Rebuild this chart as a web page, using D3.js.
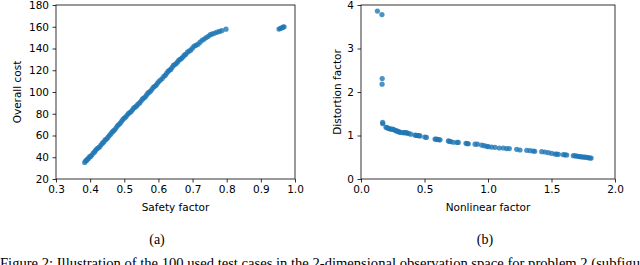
<!DOCTYPE html>
<html>
<head>
<meta charset="utf-8">
<script src="https://cdn.jsdelivr.net/npm/d3@7.9.0/dist/d3.min.js"></script>
<style>
  body { margin: 0; background: #fff; }
  svg { display: block; }
  .tick text { font-family: "DejaVu Sans", sans-serif; font-size: 10.5px; fill: #000; }
  .axis-label { font-family: "DejaVu Sans", sans-serif; font-size: 10.5px; fill: #000; }
  .caption { font-family: "Liberation Serif", "Times New Roman", serif; font-size: 14px; fill: #000; }
  .figcap { font-family: "Liberation Serif", "Times New Roman", serif; font-size: 14.6px; fill: #000; }
</style>
</head>
<body>
<svg id="fig" width="640" height="265"></svg>
<script>
// (a) Safety factor vs overall cost
const safetyX = [
  0.384, 0.387, 0.390, 0.392, 0.395, 0.398, 0.401, 0.405, 0.409, 0.413,
  0.416, 0.420, 0.424, 0.428, 0.432, 0.436, 0.440, 0.444, 0.448, 0.452,
  0.456, 0.460, 0.464, 0.468, 0.472, 0.476, 0.480, 0.484, 0.488, 0.492,
  0.496, 0.500, 0.504, 0.508, 0.512, 0.516, 0.520, 0.524, 0.528, 0.532,
  0.536, 0.540, 0.545, 0.549, 0.553, 0.557, 0.561, 0.565, 0.569, 0.573,
  0.577, 0.581, 0.585, 0.589, 0.593, 0.597, 0.601, 0.606, 0.611, 0.616,
  0.620, 0.624, 0.628, 0.632, 0.636, 0.640, 0.644, 0.648, 0.652, 0.656,
  0.660, 0.664, 0.668, 0.672, 0.676, 0.680, 0.685, 0.690, 0.695, 0.700,
  0.705, 0.710, 0.716, 0.722, 0.728, 0.734, 0.740, 0.746, 0.752, 0.758,
  0.765, 0.772, 0.779, 0.786, 0.798,
  0.953, 0.957, 0.961, 0.965, 0.968
];
const costY = [
  35.2, 36.6, 37.2, 38.3, 38.8, 40.3, 40.8, 42.0, 43.9, 44.9,
  46.4, 47.8, 48.7, 49.6, 51.4, 52.9, 54.1, 55.9, 56.8, 58.2,
  59.9, 61.2, 63.1, 64.2, 65.2, 67.1, 68.9, 70.1, 71.3, 73.0,
  74.8, 76.0, 77.0, 78.6, 80.2, 81.1, 82.0, 83.7, 85.4, 86.2,
  87.2, 88.8, 90.0, 91.7, 93.4, 94.4, 95.4, 97.1, 98.9, 99.8,
  100.9, 102.5, 104.3, 105.3, 106.2, 108.0, 109.6, 111.0, 112.4, 114.4,
  115.4, 117.2, 118.9, 119.9, 120.8, 122.6, 124.4, 125.3, 126.2, 127.7,
  129.3, 130.1, 131.0, 132.4, 133.9, 134.7, 136.6, 137.6, 138.7, 140.5,
  142.3, 142.9, 144.0, 145.8, 147.6, 148.7, 150.1, 151.2, 152.7, 153.4,
  154.2, 155.0, 155.7, 156.5, 157.8,
  157.9, 158.4, 159.0, 159.6, 160.0
];

// (b) Nonlinear factor vs distortion factor
const nonlinX = [
  0.129, 0.165, 0.167, 0.166, 0.170, 0.172,
  0.197, 0.205, 0.215, 0.224, 0.234, 0.244, 0.254, 0.265, 0.276, 0.285,
  0.294, 0.303, 0.312, 0.333, 0.344, 0.354, 0.363, 0.373, 0.391, 0.425,
  0.434, 0.443, 0.455, 0.465, 0.503, 0.515, 0.583, 0.592, 0.601, 0.612,
  0.622, 0.688, 0.697, 0.706, 0.727, 0.757, 0.766, 0.827, 0.836, 0.845,
  0.898, 0.916, 0.950, 0.969, 0.990, 1.003, 1.029, 1.055, 1.089, 1.121,
  1.147, 1.168, 1.226, 1.252, 1.305, 1.331, 1.357, 1.368, 1.423, 1.449,
  1.475, 1.501, 1.528, 1.541, 1.554, 1.593, 1.607, 1.620, 1.672, 1.685,
  1.698, 1.711, 1.724, 1.737, 1.750, 1.763, 1.777, 1.790, 1.803, 1.812
];
const distortY = [
  3.86, 3.78, 2.31, 2.18, 1.30, 1.27,
  1.19, 1.18, 1.165, 1.155, 1.15, 1.145, 1.14, 1.125, 1.11, 1.10,
  1.09, 1.08, 1.07, 1.065, 1.065, 1.065, 1.055, 1.05, 1.03, 1.01,
  1.005, 1.00, 0.995, 0.99, 0.965, 0.955, 0.92, 0.915, 0.91, 0.905,
  0.90, 0.875, 0.865, 0.86, 0.845, 0.84, 0.84, 0.82, 0.815, 0.81,
  0.80, 0.80, 0.78, 0.765, 0.752, 0.743, 0.735, 0.728, 0.713, 0.713,
  0.70, 0.70, 0.682, 0.667, 0.659, 0.651, 0.644, 0.638, 0.628, 0.621,
  0.605, 0.59, 0.575, 0.57, 0.567, 0.559, 0.556, 0.552, 0.536, 0.533,
  0.529, 0.52, 0.513, 0.51, 0.506, 0.502, 0.498, 0.49, 0.483, 0.48
];

const xTicksA = [0.3, 0.4, 0.5, 0.6, 0.7, 0.8, 0.9, 1.0];
const yTicksA = [20, 40, 60, 80, 100, 120, 140, 160, 180];
const xTicksB = [0.0, 0.5, 1.0, 1.5, 2.0];
const yTicksB = [0, 1, 2, 3, 4];

const svg = d3.select('#fig');
const dotColor = '#1f77b4';

function drawPanel(opts) {
  const x = d3.scaleLinear().domain(opts.xDomain).range([opts.left, opts.right]);
  const y = d3.scaleLinear().domain(opts.yDomain).range([opts.bottom, opts.top]);
  const g = svg.append('g');

  const xAxis = g.append('g')
    .attr('transform', `translate(0,${opts.bottom})`)
    .call(d3.axisBottom(x).tickValues(opts.xTicks).tickFormat(d3.format('.1f')).tickSize(3.5).tickPadding(3.5));
  const yAxis = g.append('g')
    .attr('transform', `translate(${opts.left},0)`)
    .call(d3.axisLeft(y).tickValues(opts.yTicks).tickFormat(opts.yFormat).tickSize(3.5).tickPadding(3.5));
  [xAxis, yAxis].forEach(a => {
    a.select('.domain').remove();
    a.selectAll('.tick line').attr('stroke', '#000').attr('stroke-width', 0.8);
  });

  // frame
  g.append('rect')
    .attr('x', opts.left).attr('y', opts.top)
    .attr('width', opts.right - opts.left).attr('height', opts.bottom - opts.top)
    .attr('fill', 'none').attr('stroke', '#000').attr('stroke-width', 0.8);

  g.append('g').selectAll('circle')
    .data(opts.xs.map((v, i) => [v, opts.ys[i]]))
    .enter()
    .append('circle')
    .attr('cx', d => x(d[0]))
    .attr('cy', d => y(d[1]))
    .attr('r', 2.6)
    .attr('fill', dotColor)
    .attr('fill-opacity', 0.8);

  g.append('text').attr('class', 'axis-label')
    .attr('x', (opts.left + opts.right) / 2).attr('y', 211)
    .attr('text-anchor', 'middle').text(opts.xLabel);
  g.append('text').attr('class', 'axis-label')
    .attr('transform', `translate(${opts.yLabelX},${(opts.top + opts.bottom) / 2}) rotate(-90)`)
    .attr('text-anchor', 'middle').text(opts.yLabel);
  svg.append('text').attr('class', 'caption')
    .attr('x', opts.capX).attr('y', 244)
    .attr('text-anchor', 'middle').text(opts.cap);
}

drawPanel({
  left: 56, right: 295, top: 5, bottom: 179,
  xDomain: [0.3, 1.0], yDomain: [20, 180],
  xTicks: xTicksA, yTicks: yTicksA, yFormat: d3.format('d'),
  xs: safetyX, ys: costY,
  xLabel: 'Safety factor', yLabel: 'Overall cost', yLabelX: 21,
  cap: '(a)', capX: 157
});

drawPanel({
  left: 361, right: 615, top: 5, bottom: 179,
  xDomain: [0, 2], yDomain: [0, 4],
  xTicks: xTicksB, yTicks: yTicksB, yFormat: d3.format('d'),
  xs: nonlinX, ys: distortY,
  xLabel: 'Nonlinear factor', yLabel: 'Distortion factor', yLabelX: 341,
  cap: '(b)', capX: 485
});

svg.append('text').attr('class', 'figcap')
  .attr('x', 0).attr('y', 268)
  .text('Figure 2: Illustration of the 100 used test cases in the 2-dimensional observation space for problem 2 (subfigure');
</script>
</body>
</html>
